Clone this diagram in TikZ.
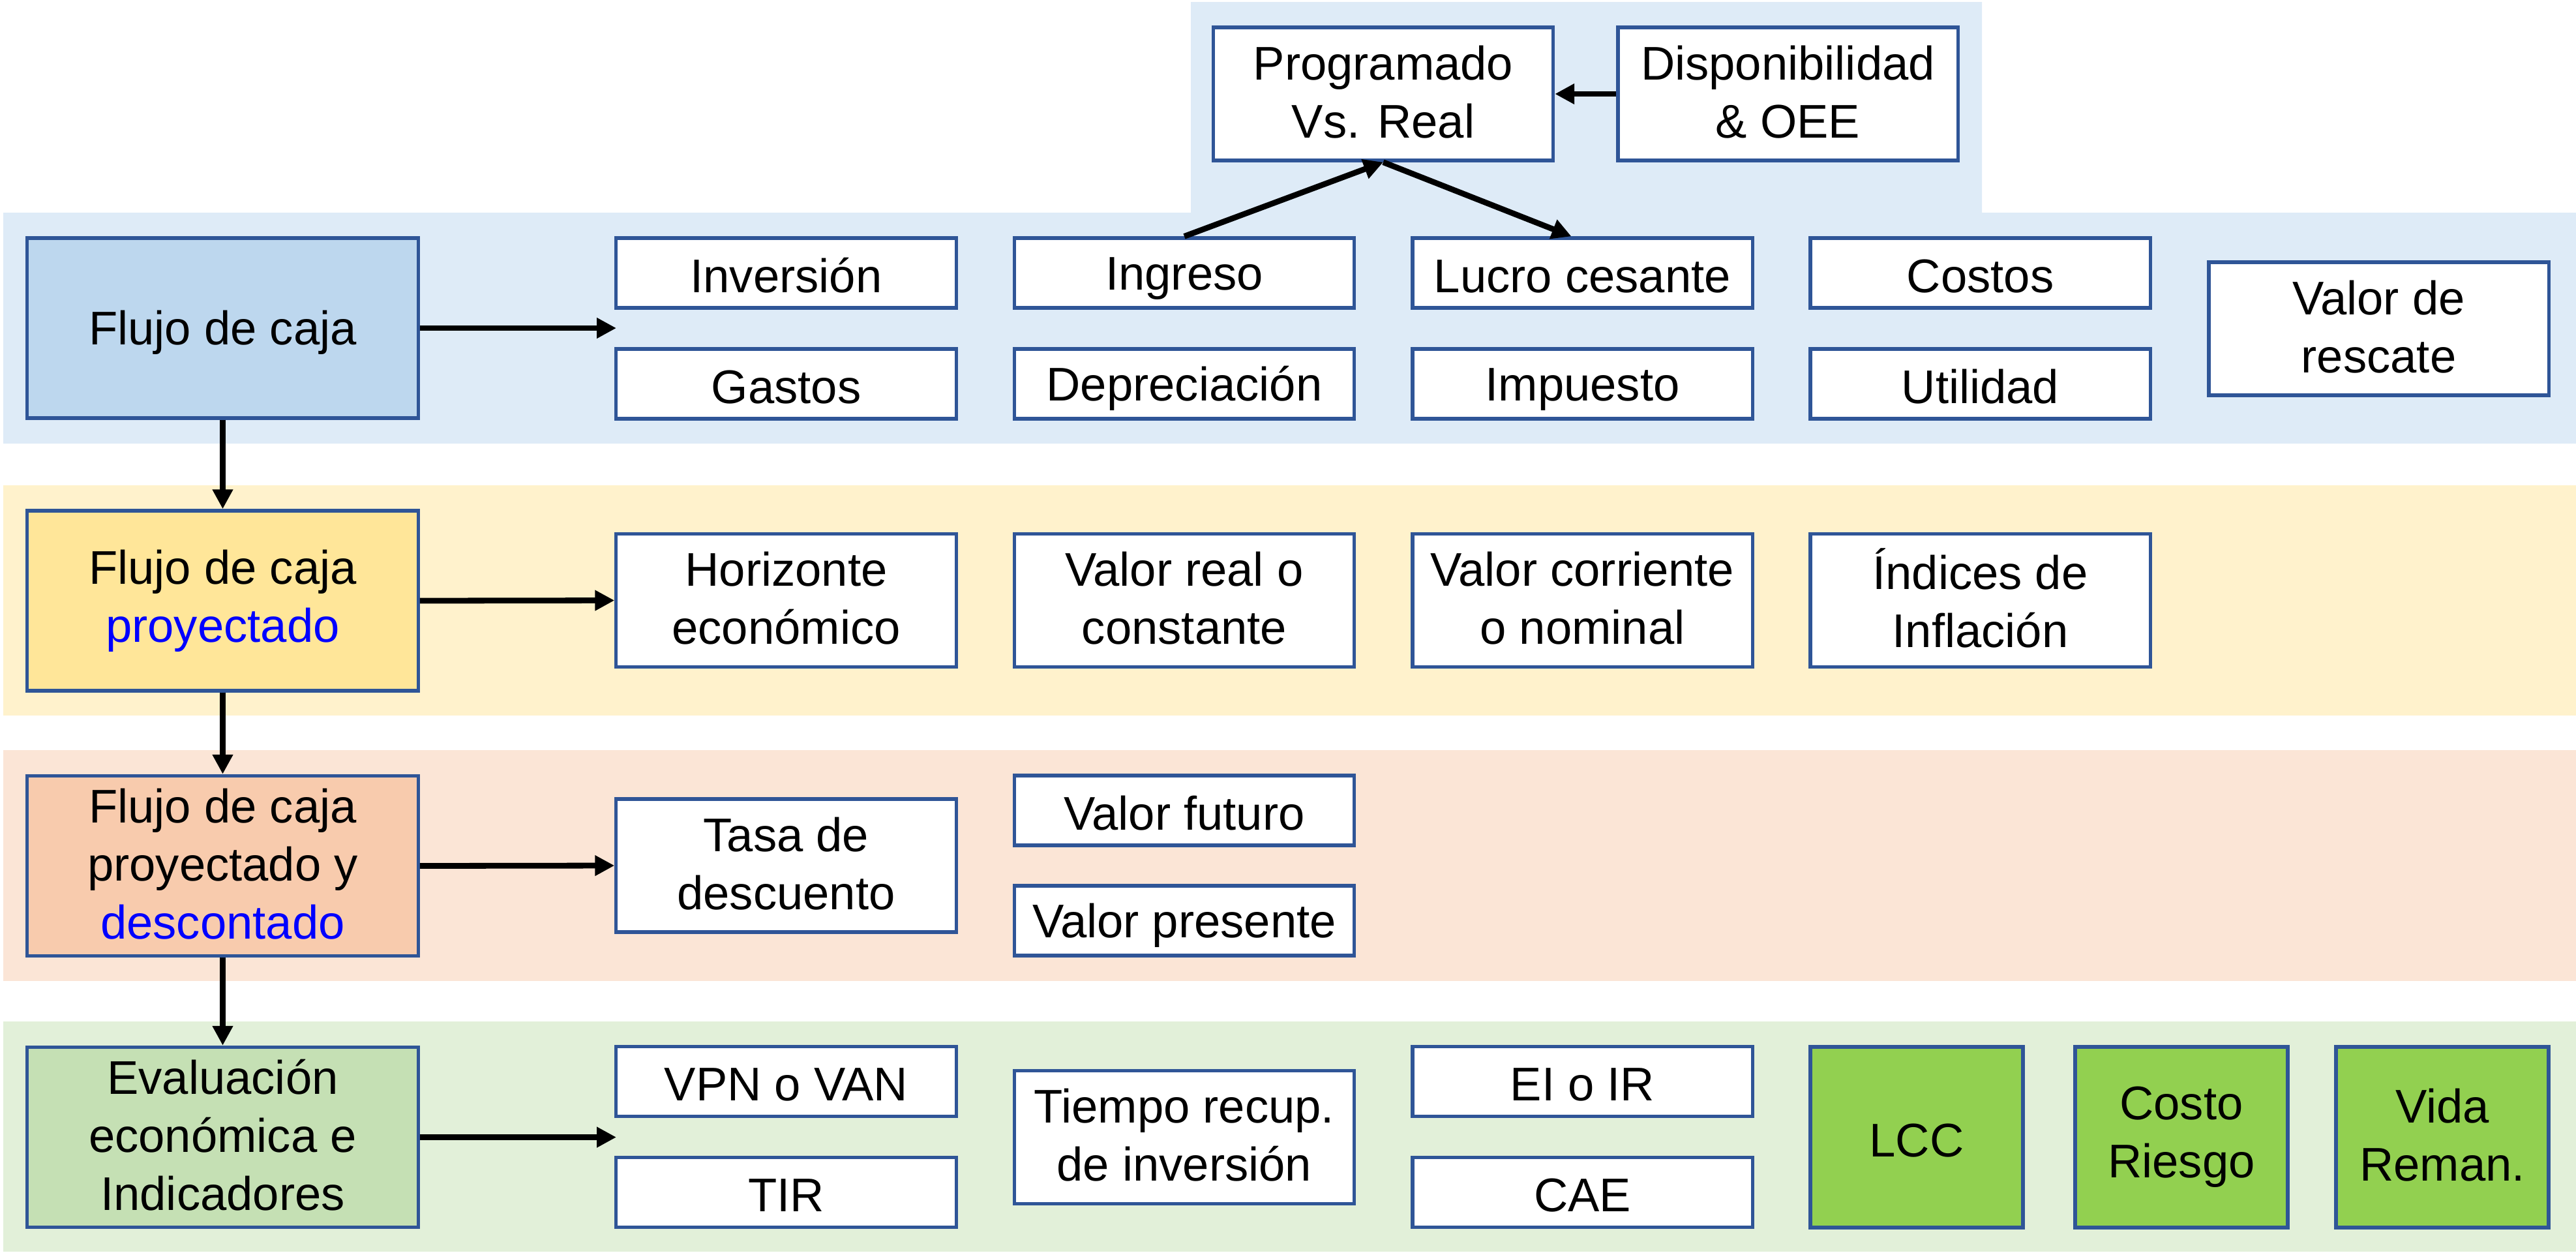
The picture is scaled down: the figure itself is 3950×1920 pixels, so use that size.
\documentclass[tikz,border=0pt]{standalone}
\usepackage{fontspec}
\setmainfont{Liberation Sans}
\usetikzlibrary{arrows.meta}
\definecolor{bandA}{HTML}{DEEBF7}
\definecolor{boxA}{HTML}{BDD7EE}
\definecolor{bandB}{HTML}{FFF2CC}
\definecolor{boxB}{HTML}{FFE699}
\definecolor{bandC}{HTML}{FBE5D6}
\definecolor{boxC}{HTML}{F8CBAD}
\definecolor{bandD}{HTML}{E2F0D9}
\definecolor{boxD}{HTML}{C5E0B4}
\definecolor{lgreen}{HTML}{92D050}
\definecolor{bord}{HTML}{2F5597}
\definecolor{hl}{HTML}{0000FF}
\newcommand\mystrutx{\rule[-2pt]{0pt}{21pt}}
\begin{document}
\begin{tikzpicture}[x=0.01cm,y=-0.01cm,
  box/.style={draw=bord, line width=1.5pt, fill=white, align=center, inner sep=0pt,
    font=\fontsize{20.6}{25.3}\selectfont, minimum width=5.21cm,
    execute at begin node=\mystrutx, execute at end node=\mystrutx},
  small/.style={box, minimum height=1.07cm},
  tall/.style={box, minimum height=2.04cm},
  mainbox/.style={box, minimum width=5.99cm, minimum height=2.76cm},
  sq/.style={box, fill=lgreen, minimum width=3.26cm, minimum height=2.77cm},
  arr/.style={-{Triangle[length=8.5pt,width=8.5pt]}, line width=2.5pt}
]
\useasboundingbox (0,0) rectangle (3950,1920);
% bands
\fill[bandA] (5,326) -- (1826,326) -- (1826,3) -- (3039,3) -- (3039,326) -- (3950,326) -- (3950,680) -- (5,680) -- cycle;
\fill[bandB] (5,744) rectangle (3950,1097);
\fill[bandC] (5,1150) rectangle (3950,1504);
\fill[bandD] (5,1566) rectangle (3950,1919);

% row 1
\node[mainbox, fill=boxA] (fc1) at (341.5,503) {Flujo de caja};
\node[small] (inv) at (1205.5,418.5) {Inversión};
\node[small] (gas) at (1205.5,588.5) {Gastos};
\node[small] (ing) at (1816,418.5) {Ingreso};
\node[small] (dep) at (1816,588.5) {Depreciación};
\node[small] (luc) at (2426.5,418.5) {Lucro cesante};
\node[small] (imp) at (2426.5,588.5) {Impuesto};
\node[small] (cos) at (3036.5,418.5) {Costos};
\node[small] (uti) at (3036.5,588.5) {Utilidad};
\node[tall] (vr) at (3647.5,504) {Valor de\\rescate};
\node[tall] (prog) at (2121,144) {Programado\\Vs. Real};
\node[tall] (disp) at (2741.5,144) {Disponibilidad\\\& OEE};

% row 2
\node[mainbox, fill=boxB] (fc2) at (341.5,921) {Flujo de caja\\\textcolor{hl}{proyectado}};
\node[tall] (hor) at (1205.5,920.5) {Horizonte\\económico};
\node[tall] (vrc) at (1816,920.5) {Valor real o\\constante};
\node[tall] (vcn) at (2426.5,920.5) {Valor corriente\\o nominal};
\node[tall] (ind) at (3036.5,920.5) {Índices de\\Inflación};

% row 3
\node[mainbox, fill=boxC] (fc3) at (341.5,1327.5) {Flujo de caja\\proyectado y\\\textcolor{hl}{descontado}};
\node[tall] (tasa) at (1205.5,1327) {Tasa de\\descuento};
\node[small] (vf) at (1816,1242.5) {Valor futuro};
\node[small] (vp) at (1816,1411.5) {Valor presente};

% row 4
\node[mainbox, fill=boxD] (fc4) at (341.5,1743.5) {Evaluación\\económica e\\Indicadores};
\node[small] (vpn) at (1205.5,1658) {VPN o VAN};
\node[small] (tir) at (1205.5,1828) {TIR};
\node[tall] (trec) at (1816,1743.5) {Tiempo recup.\\de inversión};
\node[small] (ei) at (2426.5,1658) {EI o IR};
\node[small] (cae) at (2426.5,1828) {CAE};
\node[sq] (lcc) at (2939,1743.5) {LCC};
\node[sq] (cr) at (3345,1743.5) {Costo\\Riesgo};
\node[sq] (vida) at (3745,1743.5) {Vida\\Reman.};

% connectors
\coordinate (t1) at (945,503);
\coordinate (t4) at (945,1743.5);
\draw[arr] (fc1.east) -- (t1);
\draw[arr] (fc2.east) -- (hor.west);
\draw[arr] (fc3.east) -- (tasa.west);
\draw[arr] (fc4.east) -- (t4);
\draw[arr] (fc1.south) -- (fc2.north);
\draw[arr] (fc2.south) -- (fc3.north);
\draw[arr] (fc3.south) -- (fc4.north);
\draw[arr] (disp.west) -- (prog.east);
\draw[arr] (ing.north) -- (prog.south);
\draw[arr] (prog.south) -- ([xshift=-0.17cm]luc.north);
\end{tikzpicture}
\end{document}
